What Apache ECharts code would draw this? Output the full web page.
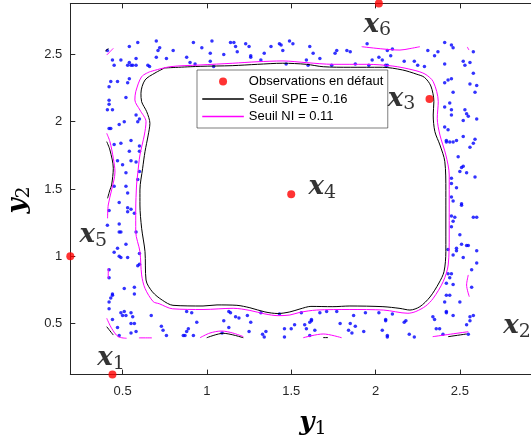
<!DOCTYPE html>
<html><head><meta charset="utf-8">
<script src="https://cdn.jsdelivr.net/npm/echarts@6/dist/echarts.min.js"></script>
<style>html,body{margin:0;padding:0;background:#fff}#c{width:531px;height:435px}</style>
</head><body><div id="c"></div>
<script>
const xTicks = [0.5, 1, 1.5, 2, 2.5];
const yTicks = [0.5, 1, 1.5, 2, 2.5];
const legendNames = ['Observations en défaut', 'Seuil SPE = 0.16', 'Seuil NI = 0.11'];

const normalObs = [
[0.59,2.59],[0.70,2.60],[0.71,2.53],[0.54,2.56],[0.70,2.48],[0.41,2.53],[0.44,2.46],[0.49,2.46],[0.45,2.42],[0.54,2.44],[0.56,2.42],[0.53,2.42],[0.58,2.47],[0.55,2.42],[0.58,2.42],[0.65,2.42],[0.66,2.41],
[0.43,2.30],[0.47,2.30],[0.54,2.32],[0.53,2.29],[0.42,2.26],[0.52,2.18],[0.42,2.16],[0.42,2.13],[0.41,2.09],[0.44,2.09],[0.58,2.05],[0.60,2.02],[0.59,2.00],[0.51,2.00],[0.48,1.98],[0.42,1.95],[0.43,1.95],[0.49,1.84],[0.55,1.86],[0.45,1.83],[0.60,1.82],[0.54,1.78],[0.60,1.78],[0.47,1.71],[0.55,1.71],[0.50,1.68],[0.58,1.70],[0.52,1.62],[0.60,1.63],[0.59,1.57],[0.45,1.52],[0.52,1.52],
[0.53,1.47],[0.48,1.40],[0.53,1.36],[0.53,1.33],[0.55,1.35],[0.57,1.32],[0.42,1.34],[0.41,1.23],[0.48,1.24],[0.48,1.18],[0.49,1.18],[0.58,1.18],[0.52,1.09],[0.47,1.06],[0.45,1.03],[0.48,1.00],[0.49,0.99],[0.53,0.99],[0.60,1.02],[0.60,0.94],[0.59,0.93],[0.42,0.90],[0.42,0.84],[0.44,0.72],[0.44,0.71],[0.51,0.76],[0.57,0.77],[0.57,0.72],[0.43,0.69],[0.42,0.66],[0.42,0.61],[0.49,0.58],[0.51,0.59],[0.55,0.58],[0.50,0.56],[0.52,0.56],[0.56,0.55],[0.67,0.56],[0.44,0.53],[0.55,0.50],[0.57,0.50],[0.47,0.47],[0.55,0.43],[0.58,0.44],[0.48,0.41],[0.74,0.45],[0.73,0.48],
[0.88,0.59],[0.91,0.58],[1.13,0.59],[1.14,0.58],[1.17,0.55],[1.19,0.54],[1.24,0.56],[1.10,0.52],[0.94,0.51],[1.26,0.51],[1.32,0.58],[1.43,0.57],[1.56,0.58],[1.67,0.58],[1.71,0.59],[1.77,0.59],[1.87,0.56],[1.94,0.58],[2.02,0.58],[2.10,0.57],[2.06,0.53],[2.06,0.52],[1.79,0.50],[1.85,0.50],[1.88,0.48],[1.62,0.53],[1.62,0.52],[1.61,0.51],[1.52,0.49],[1.50,0.46],[1.46,0.46],[1.58,0.49],[1.64,0.45],[1.59,0.46],[0.89,0.46],[0.88,0.44],[0.86,0.41],[0.87,0.41],[0.92,0.41],[0.76,0.41],[1.13,0.47],[1.25,0.44],[1.33,0.42],[1.34,0.40],[1.35,0.44],[1.46,0.40],[1.61,0.41],[1.84,0.45],[1.86,0.43],[1.93,0.44],[2.04,0.45],[2.17,0.51],[2.18,0.52],[2.20,0.42],[2.23,0.40],[2.07,0.41],[2.07,0.40],[1.09,0.43],
[0.72,2.55],[0.76,2.47],[0.80,2.53],[0.88,2.48],[0.90,2.44],[0.93,2.43],[0.92,2.59],[0.97,2.55],[1.02,2.51],[1.03,2.60],[1.02,2.45],[1.04,2.41],[1.10,2.50],[1.14,2.59],[1.16,2.59],[1.17,2.56],[1.18,2.52],[1.23,2.58],[1.25,2.56],[1.26,2.49],[1.26,2.48],[1.32,2.46],[1.34,2.51],[1.38,2.56],[1.43,2.58],[1.44,2.57],[1.45,2.53],[1.49,2.60],[1.51,2.58],[1.47,2.43],[1.61,2.56],[1.59,2.46],[1.63,2.51],[1.60,2.42],[1.67,2.47],[1.74,2.42],[1.76,2.51],[1.77,2.53],[1.83,2.53],[1.85,2.52],[1.88,2.43],[1.96,2.42],[1.95,2.58],[1.98,2.46],[2.02,2.48],[2.04,2.46],[2.07,2.53],[2.10,2.54],[2.09,2.49],[2.07,2.42],[2.06,2.42],[2.17,2.45],[2.23,2.45],[2.25,2.42],[2.31,2.53],
[2.41,2.59],[2.45,2.57],[2.46,2.55],[2.37,2.52],[2.35,2.49],[2.58,2.52],[2.29,2.41],[2.41,2.43],[2.52,2.45],[2.56,2.44],[2.53,2.42],[2.58,2.36],[2.45,2.32],[2.43,2.31],[2.41,2.29],[2.56,2.28],[2.60,2.27],[2.59,2.22],[2.46,2.22],[2.44,2.14],[2.41,2.11],[2.45,2.09],[2.45,2.05],[2.53,2.09],[2.54,2.06],[2.55,2.04],[2.52,2.01],[2.60,2.02],[2.41,1.96],[2.43,1.94],[2.52,1.89],[2.59,1.87],[2.58,1.84],[2.56,1.81],[2.42,1.86],[2.42,1.85],[2.44,1.85],[2.46,1.85],[2.48,1.86],[2.49,1.74],[2.52,1.67],[2.51,1.66],[2.54,1.62],[2.50,1.63],[2.59,1.59],[2.45,1.58],[2.45,1.54],[2.48,1.51],
[2.45,1.44],[2.46,1.41],[2.51,1.39],[2.51,1.38],[2.45,1.30],[2.47,1.29],[2.46,1.26],[2.45,1.22],[2.58,1.29],[2.60,1.29],[2.50,1.16],[2.51,1.09],[2.54,1.08],[2.55,1.08],[2.48,1.06],[2.48,1.04],[2.46,1.01],[2.52,0.99],[2.60,1.04],[2.43,1.05],[2.60,0.95],[2.57,0.90],[2.43,0.87],[2.45,0.87],[2.44,0.84],[2.46,0.79],[2.42,0.80],[2.57,0.77],[2.42,0.71],[2.44,0.71],[2.50,0.66],[2.41,0.66],[2.42,0.59],[2.42,0.58],[2.46,0.56],[2.34,0.55],[2.35,0.53],[2.58,0.56],[2.56,0.55],[2.56,0.52],[2.54,0.49],[2.36,0.46],[2.38,0.46],[2.40,0.42],[2.55,0.42]
];

const faultX = [0.44, 3.00, 2.32, 1.50, 0.19, 2.02];
const faultY = [0.12, 0.47, 2.17, 1.46, 1.00, 2.88];
const faultTags = ['1', '2', '3', '4', '5', '6'];

const speMain = [[0.75,2.40],[0.96,2.412],[1.15,2.417],[1.30,2.427],[1.45,2.435],[1.59,2.427],[1.69,2.409],[1.85,2.405],[2.04,2.405],[2.16,2.385],[2.245,2.353],[2.29,2.33],[2.328,2.266],[2.346,2.149],[2.342,2.05],[2.352,1.926],[2.382,1.827],[2.411,1.703],[2.417,1.49],[2.417,1.034],[2.406,0.885],[2.376,0.801],[2.323,0.697],[2.263,0.625],[2.204,0.60],[2.145,0.612],[2.044,0.625],[1.848,0.63],[1.747,0.625],[1.617,0.627],[1.552,0.608],[1.492,0.586],[1.421,0.574],[1.344,0.586],[1.255,0.617],[1.178,0.635],[1.06,0.638],[0.977,0.63],[0.799,0.635],[0.736,0.673],[0.677,0.735],[0.639,0.823],[0.633,1.034],[0.613,1.208],[0.603,1.381],[0.603,1.493],[0.619,1.654],[0.633,1.778],[0.652,1.901],[0.662,1.988],[0.643,2.075],[0.613,2.149],[0.609,2.212],[0.633,2.31],[0.692,2.362],[0.75,2.40]];

const niMain = [[0.662,2.372],[0.781,2.409],[0.959,2.422],[1.154,2.435],[1.297,2.446],[1.451,2.452],[1.593,2.439],[1.747,2.427],[1.949,2.427],[2.103,2.414],[2.222,2.385],[2.293,2.355],[2.342,2.298],[2.372,2.149],[2.366,2.026],[2.382,1.901],[2.417,1.753],[2.437,1.604],[2.437,1.158],[2.431,0.935],[2.401,0.811],[2.342,0.687],[2.298,0.630],[2.239,0.589],[2.192,0.576],[2.046,0.600],[1.848,0.604],[1.651,0.600],[1.552,0.583],[1.492,0.563],[1.423,0.558],[1.344,0.571],[1.255,0.597],[1.156,0.613],[0.977,0.604],[0.797,0.609],[0.717,0.647],[0.682,0.662],[0.633,0.761],[0.613,0.861],[0.603,1.034],[0.578,1.183],[0.578,1.344],[0.583,1.530],[0.589,1.604],[0.603,1.753],[0.629,1.901],[0.639,2.000],[0.603,2.087],[0.573,2.162],[0.578,2.223],[0.613,2.335],[0.662,2.372]];

const speFragments = [
[[0.398,2.526],[0.416,2.544]],
[[0.406,1.852],[0.425,1.790],[0.445,1.654],[0.435,1.530],[0.425,1.493],[0.411,1.431]],
[[0.406,0.476],[0.445,0.414]],
[[0.999,0.394],[1.097,0.427],[1.216,0.394]],
[[1.690,0.395],[1.718,0.395]],
[[2.431,0.402],[2.540,0.422]]
];
const niFragments = [
[[1.918,2.558],[2.044,2.541],[2.145,2.533],[2.204,2.544],[2.263,2.558]],
[[0.406,2.496],[0.445,2.546]],
[[2.544,2.556],[2.554,2.533]],
[[0.406,1.914],[0.425,1.852],[0.445,1.729],[0.455,1.626],[0.435,1.493],[0.415,1.381],[0.411,1.282]],
[[0.415,0.910],[0.415,0.836]],
[[0.406,0.539],[0.435,0.464],[0.474,0.402],[0.524,0.390]],
[[0.959,0.394],[1.018,0.429],[1.087,0.444],[1.154,0.429],[1.216,0.402]],
[[1.571,0.394],[1.690,0.422],[1.799,0.394]],
[[2.339,0.402],[2.550,0.439]],
[[2.550,0.861],[2.540,0.786],[2.556,0.699]],
[[0.597,0.393],[0.674,0.393]]
];

// label placement (pixels) relative to each faulty point
const labelOffsets = [[-1.5,-16.5],[-27,-1],[-28,0],[31,-7],[23,-21],[-1.6,21.5]];

const AX = '#262626';
const richT = {
  m: {fontFamily:'DejaVu Serif', fontWeight:'bold', fontStyle:'italic', fontSize:26, lineHeight:30, color:'#000'},
  s: {fontFamily:'DejaVu Serif', fontSize:19, lineHeight:14, verticalAlign:'bottom', color:'#000'}
};
const tickFont = {fontFamily:'Liberation Sans', fontSize:13, color:AX};

const series = [];
series.push({type:'scatter', name:'normal', data: normalObs, symbolSize:3.5, itemStyle:{color:'#0000ff'}, silent:true, z:2});
function lineSeries(name, pts, color){
  return {type:'line', name:name, data:pts, symbol:'none', smooth:0.3, lineStyle:{color:color, width:1}, itemStyle:{color:color}, silent:true, z:3};
}
series.push(lineSeries(legendNames[1], speMain, '#000000'));
speFragments.forEach(f => series.push(lineSeries(legendNames[1], f, '#000000')));
series.push(lineSeries(legendNames[2], niMain, '#ff00ff'));
niFragments.forEach(f => series.push(lineSeries(legendNames[2], f, '#ff00ff')));
series.push({
  type:'scatter', name:legendNames[0], symbolSize:8, clip:false, z:5,
  itemStyle:{color:'#ff0000'},
  data: faultX.map((x,i) => ({value:[x, faultY[i]], label:{offset: labelOffsets[i]}})),
  label:{show:true, position:'inside', formatter: p => '{m|x}{s|' + faultTags[p.dataIndex] + '}', rich: richT}
});

const chart = echarts.init(document.getElementById('c'), null, {renderer:'canvas'});
chart.setOption({
  animation:false,
  backgroundColor:'#ffffff',
  grid:{left:70.3, top:3.39, width:482.3, height:371.2, containLabel:false, outerBoundsMode:'none'},
  xAxis:[{
    type:'value', min:0.19, max:3.05, position:'bottom',
    axisLine:{show:true, onZero:false, lineStyle:{color:AX, width:1}},
    axisTick:{show:true, inside:true, length:5, customValues:xTicks, lineStyle:{color:AX, width:1}},
    axisLabel:{customValues:xTicks, margin:10, ...tickFont},
    splitLine:{show:false},
    name:'{m|y}{s|1}', nameLocation:'middle', nameGap:34, nameTextStyle:{rich:richT, padding:[0,0,0,3]}
  },{
    type:'value', min:0.19, max:3.05, position:'top',
    axisLine:{show:true, onZero:false, lineStyle:{color:AX, width:1}},
    axisTick:{show:true, inside:true, length:5, customValues:xTicks, lineStyle:{color:AX, width:1}},
    axisLabel:{show:false}, splitLine:{show:false}
  }],
  yAxis:[{
    type:'value', min:0.12, max:2.88, position:'left',
    axisLine:{show:true, onZero:false, lineStyle:{color:AX, width:1}},
    axisTick:{show:true, inside:true, length:5, customValues:yTicks, lineStyle:{color:AX, width:1}},
    axisLabel:{customValues:yTicks, margin:8, ...tickFont},
    splitLine:{show:false},
    name:'{m|y}{s|2}', nameLocation:'middle', nameRotate:90, nameGap:36, nameTextStyle:{rich:richT, padding:[0,22,0,0]}
  }],
  legend:{
    orient:'vertical', left:197, top:70, padding:[5,4.5,5,4.5],
    itemWidth:41.6, itemHeight:8, itemGap:4.5,
    backgroundColor:'#ffffff', borderColor:AX, borderWidth:0.6, borderRadius:0,
    textStyle:{fontFamily:'Liberation Sans', fontSize:13, color:'#000'},
    selectedMode:false,
    data:[
      {name:legendNames[0], icon:'circle'},
      {name:legendNames[1], itemStyle:{opacity:0}, lineStyle:{width:1.5, color:'#000000'}},
      {name:legendNames[2], itemStyle:{opacity:0}, lineStyle:{width:1.5, color:'#ff00ff'}}
    ]
  },
  series: series
});
</script></body></html>
